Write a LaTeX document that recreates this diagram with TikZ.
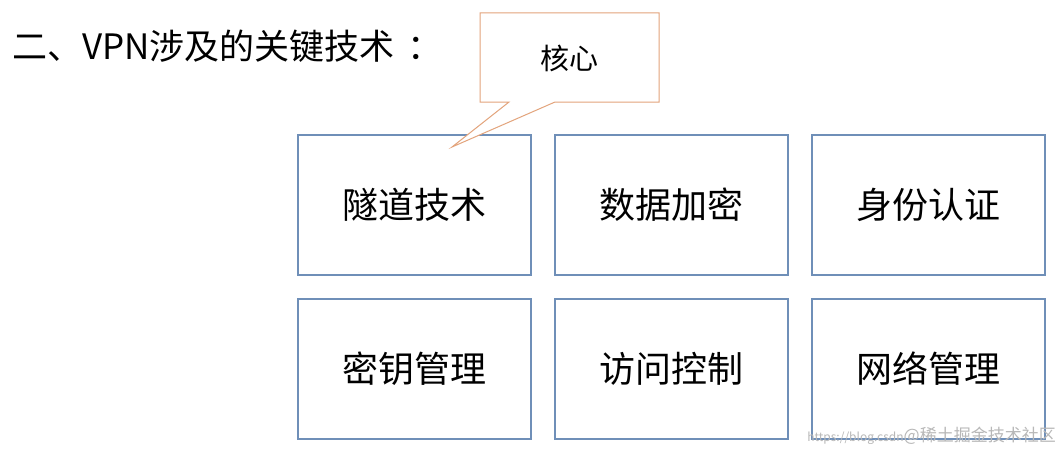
\documentclass[tikz,border=0pt]{standalone}
\usepackage{fontspec}
\setmainfont{Noto Sans CJK SC}
\newfontfamily\cjk{Noto Sans CJK SC}
\begin{document}
\begin{tikzpicture}[x=1pt,y=-1pt,
  techbox/.style={draw=boxblue, line width=2pt, minimum width=233pt, minimum height=140pt, inner sep=0pt, font=\fontsize{36}{40}\selectfont\cjk, text=black},
  calloutline/.style={draw=calloutorange, line width=1pt, fill=white}]
\definecolor{boxblue}{HTML}{6F8FB8}
\definecolor{calloutorange}{HTML}{E3A47C}
\useasboundingbox (0,0) rectangle (1064,452);
\fill[white] (0,0) rectangle (1064,452);
% title
\node[anchor=west, font=\fontsize{35}{38}\selectfont\cjk, inner sep=0pt] (title) at (12,46) {二、VPN涉及的关键技术\hspace{0.35em}：};
% boxes
\node[techbox] (b1) at (414,205) {隧道技术};
\node[techbox] (b2) at (671,205) {数据加密};
\node[techbox] (b3) at (928,205) {身份认证};
\node[techbox] (b4) at (414,368.5) {密钥管理};
\node[techbox] (b5) at (671,368.5) {访问控制};
\node[techbox] (b6) at (928,368.5) {网络管理};
% callout
\coordinate (tip) at (452,147);
\draw[calloutline] (480,13) -- (659,13) -- (659,102) -- (555,102) -- (tip) -- (509,102) -- (480,102) -- cycle;
\node[font=\fontsize{29}{32}\selectfont\cjk, inner sep=0pt] (core) at (569,58) {核心};
% watermark
\node[anchor=east, inner sep=0pt, text=black!28] (wm) at (1056,436) {{\fontsize{12}{14}\selectfont https://blog.csdn}{\fontsize{17}{19}\selectfont @稀土掘金技术社区}};
\end{tikzpicture}
\end{document}
